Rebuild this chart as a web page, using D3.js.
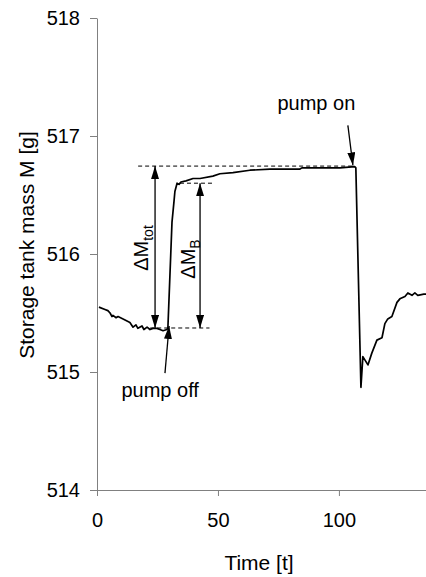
<!DOCTYPE html>
<html>
<head>
<meta charset="utf-8">
<script src="https://cdn.jsdelivr.net/npm/d3@7"></script>
<style>
  html, body { margin: 0; padding: 0; background: #fff; }
  svg { display: block; font-family: "Liberation Sans", Arial, sans-serif; }
</style>
</head>
<body>
<svg id="chart" width="426" height="577"></svg>
<script>
// ---- data ----
const timeValues = [0.8, 3.3, 4.5, 5.4, 6.2, 6.6, 7.9, 8.7, 11.6, 13.6, 14.9, 16.1, 16.9, 18.6, 19.4, 20.7, 21.9, 23.1, 24.8, 26.0, 27.3, 28.9, 29.3,
  31.0, 31.8, 32.2, 33.1, 33.9, 34.7, 36.8, 39.7, 42.6, 47.9, 50.8, 56.2, 63.2, 71.5, 83.9, 84.7, 100.4, 106.6, 107.0,
  109.1, 109.9, 112.0, 113.6, 115.7, 117.8, 119.0, 120.2, 121.9, 124.0, 125.2, 127.3, 128.5, 130.2, 131.4, 132.6, 135.1, 136.0];
const massValues = [515.55, 515.53, 515.52, 515.50, 515.47, 515.48, 515.46, 515.47, 515.44, 515.42, 515.38, 515.40, 515.37, 515.39, 515.36, 515.38, 515.36, 515.37, 515.37, 515.36, 515.35, 515.36, 515.37,
  516.27, 516.44, 516.53, 516.60, 516.59, 516.61, 516.62, 516.64, 516.64, 516.66, 516.68, 516.69, 516.71, 516.72, 516.72, 516.73, 516.73, 516.74, 516.73,
  514.87, 515.13, 515.06, 515.16, 515.27, 515.29, 515.41, 515.45, 515.47, 515.59, 515.62, 515.64, 515.67, 515.65, 515.67, 515.65, 515.66, 515.66];

const xTicks = [0, 50, 100];
const yTicks = [514, 515, 516, 517, 518];
const xDomain = [0, 136];
const yDomain = [514, 518];

const xTitle = "Time [t]";
const yTitle = "Storage tank mass M [g]";

// reference levels (dashed lines): [t0, t1, M]
const dashedLines = [
  [17, 106, 516.745],
  [34.3, 48, 516.60],
  [22, 46.5, 515.373]
];
// double arrows: [t, Mtop, Mbottom]
const deltaArrows = [
  [24.0, 516.745, 515.373],
  [42.6, 516.60, 515.373]
];
// pointer arrows: [tFrom, MFrom, tTo, MTo]
const pointerArrows = [
  [28.1, 514.99, 29.8, 515.39],
  [103.7, 517.09, 105.8, 516.75]
];
const pumpLabels = [
  {text: "pump on", t: 74.6, M: 517.22},
  {text: "pump off", t: 10.1, M: 514.79}
];

// ---- drawing ----
const svg = d3.select("#chart");
const margin = {left: 97, right: 0, top: 18, bottom: 87};
const W = 426, H = 577;
const x = d3.scaleLinear().domain(xDomain).range([margin.left, W - margin.right]);
const y = d3.scaleLinear().domain(yDomain).range([H - margin.bottom, margin.top]);

const axisColor = "#808080";
const tickFs = 20;
const titleFs = 21;
const noteFs = 20;

const yAxis = svg.append("g")
  .attr("transform", `translate(${margin.left},0)`)
  .call(d3.axisLeft(y).tickValues(yTicks).tickFormat(d3.format("d")).tickSize(7).tickSizeOuter(0).tickPadding(10));
const xAxis = svg.append("g")
  .attr("transform", `translate(0,${H - margin.bottom})`)
  .call(d3.axisBottom(x).tickValues(xTicks).tickFormat(d3.format("d")).tickSize(6).tickSizeOuter(0).tickPadding(17));
[yAxis, xAxis].forEach(g => {
  g.selectAll("path, line").attr("stroke", axisColor).attr("stroke-width", 1);
  g.selectAll("text").attr("fill", "#000").attr("font-size", tickFs).attr("font-family", "Liberation Sans, Arial, sans-serif");
});

// axis titles
svg.append("text")
  .attr("transform", `translate(34,${245}) rotate(-90)`)
  .attr("text-anchor", "middle")
  .attr("font-size", titleFs)
  .text(yTitle);
svg.append("text")
  .attr("x", 259).attr("y", 570)
  .attr("text-anchor", "middle")
  .attr("font-size", titleFs)
  .text(xTitle);

// arrow marker
const defs = svg.append("defs");
defs.append("marker")
  .attr("id", "arr")
  .attr("viewBox", "0 0 13 8")
  .attr("refX", 13).attr("refY", 4)
  .attr("markerWidth", 13).attr("markerHeight", 8)
  .attr("markerUnits", "userSpaceOnUse")
  .attr("orient", "auto-start-reverse")
  .append("path").attr("d", "M0,0 L13,4 L0,8 Z").attr("fill", "#000");

// dashed lines
svg.append("g").selectAll("line").data(dashedLines).join("line")
  .attr("x1", d => x(d[0])).attr("x2", d => x(d[1]))
  .attr("y1", d => y(d[2])).attr("y2", d => y(d[2]))
  .attr("stroke", "#000").attr("stroke-width", 1).attr("stroke-dasharray", "4,3");

// data line
const data = timeValues.map((t, i) => [t, massValues[i]]);
svg.append("path")
  .datum(data)
  .attr("fill", "none")
  .attr("stroke", "#000")
  .attr("stroke-width", 1.7)
  .attr("stroke-linejoin", "round")
  .attr("d", d3.line().x(d => x(d[0])).y(d => y(d[1])));

// double arrows
svg.append("g").selectAll("line").data(deltaArrows).join("line")
  .attr("x1", d => x(d[0])).attr("x2", d => x(d[0]))
  .attr("y1", d => y(d[1])).attr("y2", d => y(d[2]))
  .attr("stroke", "#000").attr("stroke-width", 1.3)
  .attr("marker-start", "url(#arr)").attr("marker-end", "url(#arr)");

// pointer arrows
svg.append("g").selectAll("line").data(pointerArrows).join("line")
  .attr("x1", d => x(d[0])).attr("y1", d => y(d[1]))
  .attr("x2", d => x(d[2])).attr("y2", d => y(d[3]))
  .attr("stroke", "#000").attr("stroke-width", 1.3)
  .attr("marker-end", "url(#arr)");

// pump labels
svg.append("g").selectAll("text").data(pumpLabels).join("text")
  .attr("x", d => x(d.t)).attr("y", d => y(d.M))
  .attr("font-size", noteFs)
  .text(d => d.text);

// delta labels (rotated)
function deltaLabel(cx, cy, sub) {
  const t = svg.append("text")
    .attr("transform", `translate(${cx},${cy}) rotate(-90)`)
    .attr("text-anchor", "middle")
    .attr("font-size", 20);
  t.append("tspan").text("\u0394M");
  t.append("tspan").attr("font-size", 14).attr("dy", 5).text(sub);
}
deltaLabel(148, 248, "tot");
deltaLabel(195, 259, "B");
</script>
</body>
</html>
